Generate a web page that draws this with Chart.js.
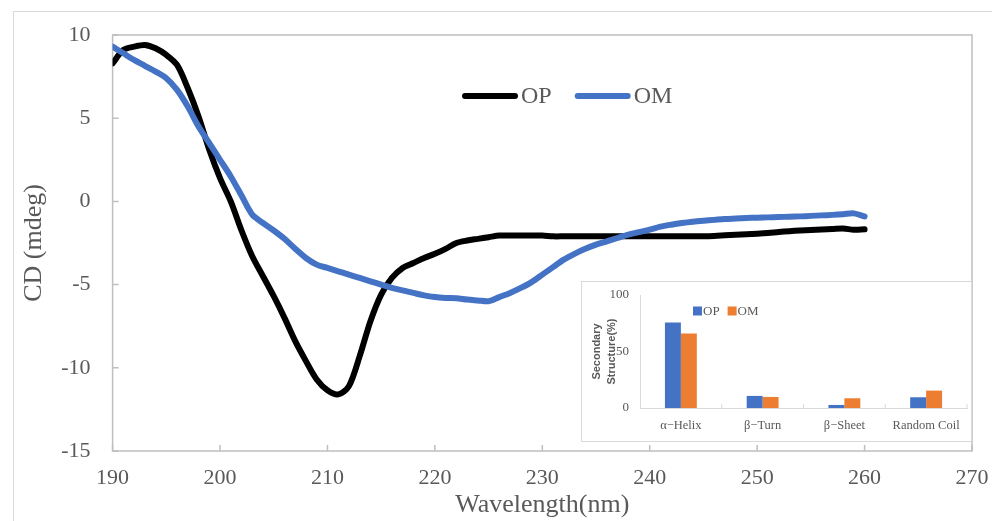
<!DOCTYPE html>
<html>
<head>
<meta charset="utf-8">
<script src="https://cdn.jsdelivr.net/npm/chart.js@4.4.1/dist/chart.umd.min.js"></script>
<style>
html, body { margin: 0; padding: 0; background: #fff; overflow: hidden; }
#wrap { position: relative; width: 992px; height: 521px; overflow: hidden; }
#outer { position: absolute; left: 13px; top: 11px; width: 1000px; height: 600px; border: 1px solid #d9d9d9; }
#main { position: absolute; left: 0; top: 0; }
#insetBox { position: absolute; left: 581px; top: 281px; width: 391px; height: 161px; box-sizing: border-box; border: 1px solid #d9d9d9; background: #fff; }
#inset { position: absolute; left: 0; top: 0; }
</style>
</head>
<body>
<div id="wrap">
  <div id="outer"></div>
  <canvas id="main" width="992" height="521"></canvas>
  <div id="insetBox"><canvas id="inset" width="389" height="159"></canvas></div>
</div>
<script>
// main CD spectra
var seriesNames = ['OP', 'OM'];
var wavelengths = [190, 191, 192, 193, 194, 195, 196, 197, 198, 199,
    200, 201, 202, 203, 204, 205, 206, 207, 208, 209,
    210, 211, 212, 213, 214, 215, 216, 217, 218, 219,
    220, 221, 222, 223, 224, 225, 226, 227, 228, 229,
    230, 231, 232, 233, 234, 235, 236, 237, 238, 239,
    240, 241, 242, 243, 244, 245, 246, 247, 248, 249,
    250, 251, 252, 253, 254, 255, 256, 257, 258, 259, 260];
var opCD = [8.3, 9.1, 9.3, 9.4, 9.2, 8.8, 8.2, 6.8, 5.1, 3.1,
    1.4, 0.0, -1.75, -3.3, -4.5, -5.7, -7.0, -8.4, -9.6, -10.7,
    -11.35, -11.6, -11.1, -9.3, -7.2, -5.6, -4.6, -4.0, -3.7, -3.4,
    -3.15, -2.85, -2.5, -2.35, -2.25, -2.15, -2.05, -2.05, -2.05, -2.05,
    -2.05, -2.1, -2.1, -2.1, -2.1, -2.1, -2.1, -2.1, -2.1, -2.1,
    -2.1, -2.1, -2.1, -2.1, -2.1, -2.1, -2.08, -2.04, -2.0, -1.97,
    -1.94, -1.9, -1.84, -1.79, -1.75, -1.72, -1.69, -1.66, -1.63, -1.7, -1.68];
var omCD = [9.3, 8.9, 8.5, 8.15, 7.8, 7.4, 6.7, 5.7, 4.5, 3.5,
    2.5, 1.5, 0.35, -0.8, -1.3, -1.75, -2.25, -2.85, -3.4, -3.8,
    -4.0, -4.2, -4.4, -4.6, -4.8, -5.0, -5.2, -5.35, -5.5, -5.65,
    -5.75, -5.8, -5.82, -5.9, -5.95, -6.0, -5.75, -5.5, -5.2, -4.85,
    -4.4, -3.95, -3.5, -3.15, -2.85, -2.6, -2.4, -2.2, -2.0, -1.85,
    -1.7, -1.52, -1.4, -1.3, -1.22, -1.16, -1.11, -1.06, -1.03, -1.0,
    -0.98, -0.96, -0.94, -0.92, -0.9, -0.87, -0.84, -0.81, -0.77, -0.72, -0.9];
var xTicks = [190, 200, 210, 220, 230, 240, 250, 260, 270];
var yTicks = [-15, -10, -5, 0, 5, 10];

// inset secondary structure
var structures = ['α−Helix', 'β−Turn', 'β−Sheet', 'Random Coil'];
var opStructure = [75.7, 10.7, 2.7, 9.5];
var omStructure = [66.0, 9.8, 8.6, 15.4];
var insetTicks = [0, 50, 100];

var textGray = '#595959';
var serif = 'Liberation Serif';

function noScalePadding(s) {
    s.paddingLeft = 0;
    s.paddingRight = 0;
    s.paddingTop = 0;
    s.paddingBottom = 0;
}

// plot area border + small inner tick marks
var plotFrame = {
    id: 'plotFrame',
    beforeDatasetsDraw: function(chart) {
        var ctx = chart.ctx, a = chart.chartArea;
        var x = chart.scales.x, y = chart.scales.y;
        ctx.save();
        ctx.strokeStyle = '#bfbfbf';
        ctx.lineWidth = 1.5;
        ctx.strokeRect(a.left, a.top, a.right - a.left, a.bottom - a.top);
        ctx.beginPath();
        xTicks.forEach(function(v) {
            var px = x.getPixelForValue(v);
            ctx.moveTo(px, a.bottom);
            ctx.lineTo(px, a.bottom - 6);
        });
        yTicks.forEach(function(v) {
            var py = y.getPixelForValue(v);
            ctx.moveTo(a.left, py);
            ctx.lineTo(a.left + 6, py);
        });
        ctx.stroke();
        ctx.restore();
    }
};

// legend drawn inside the plot, line + label
var lineLegend = {
    id: 'lineLegend',
    afterDraw: function(chart) {
        var ctx = chart.ctx;
        var x = 462, y = 96;
        ctx.save();
        ctx.font = '24px "' + serif + '"';
        ctx.textBaseline = 'middle';
        chart.data.datasets.forEach(function(ds) {
            ctx.strokeStyle = ds.borderColor;
            ctx.lineWidth = 6;
            ctx.lineCap = 'round';
            ctx.beginPath();
            ctx.moveTo(x + 3, y);
            ctx.lineTo(x + 53, y);
            ctx.stroke();
            ctx.fillStyle = textGray;
            ctx.fillText(ds.label, x + 59, y + 1);
            x += 59 + ctx.measureText(ds.label).width + 23;
        });
        ctx.restore();
    }
};

var mainChart = new Chart(document.getElementById('main'), {
type: 'line',
data: {
    datasets: [{
        label: seriesNames[0],
        data: wavelengths.map(function(w, i) { return {x: w, y: opCD[i]}; }),
        borderColor: '#000000',
        borderWidth: 6,
        pointRadius: 0,
        tension: 0.3,
        borderCapStyle: 'round',
        borderJoinStyle: 'round',
        order: 1
    }, {
        label: seriesNames[1],
        data: wavelengths.map(function(w, i) { return {x: w, y: omCD[i]}; }),
        borderColor: '#4472C4',
        borderWidth: 6,
        pointRadius: 0,
        tension: 0.3,
        borderCapStyle: 'round',
        borderJoinStyle: 'round',
        order: 0
    }]
},
options: {
    responsive: false,
    animation: false,
    layout: {
        padding: {left: 0, top: 35, right: 20, bottom: 0}
    },
    plugins: {
        legend: {display: false},
        tooltip: {enabled: false}
    },
    scales: {
        x: {
            type: 'linear',
            min: 190,
            max: 270,
            afterBuildTicks: function(s) { s.ticks = xTicks.map(function(v) { return {value: v}; }); },
            afterFit: function(s) { s.height = 70; noScalePadding(s); },
            grid: {display: false, drawTicks: false},
            border: {display: false},
            ticks: {font: {family: serif, size: 22}, color: textGray, padding: 14, maxRotation: 0},
            title: {
                display: true,
                text: 'Wavelength(nm)',
                font: {family: serif, size: 26},
                color: textGray,
                padding: {top: 0, bottom: 0}
            }
        },
        y: {
            min: -15,
            max: 10,
            afterBuildTicks: function(s) { s.ticks = yTicks.map(function(v) { return {value: v}; }); },
            afterFit: function(s) { s.width = 112.6; noScalePadding(s); },
            grid: {display: false, drawTicks: false},
            border: {display: false},
            ticks: {font: {family: serif, size: 22}, color: textGray, padding: 22},
            title: {
                display: true,
                text: 'CD (mdeg)',
                font: {family: serif, size: 26},
                color: textGray,
                padding: {top: 19, bottom: 0}
            }
        }
    }
},
plugins: [plotFrame, lineLegend]
});

// inset legend: square + label
var insetLegend = {
    id: 'insetLegend',
    afterDraw: function(chart) {
        var ctx = chart.ctx;
        var x = 111, y = 29;
        ctx.save();
        ctx.font = '13px "' + serif + '"';
        ctx.textBaseline = 'middle';
        chart.data.datasets.forEach(function(ds) {
            ctx.fillStyle = ds.backgroundColor;
            ctx.fillRect(x, y - 4.5, 9, 9);
            ctx.fillStyle = textGray;
            ctx.fillText(ds.label, x + 10, y + 1);
            x += 10 + ctx.measureText(ds.label).width + 8;
        });
        ctx.restore();
    }
};

// little tick marks between categories
var insetMarks = {
    id: 'insetMarks',
    afterDatasetsDraw: function(chart) {
        var ctx = chart.ctx, a = chart.chartArea;
        var n = structures.length, w = (a.right - a.left) / n;
        ctx.save();
        ctx.strokeStyle = '#d9d9d9';
        ctx.lineWidth = 1;
        ctx.beginPath();
        for (var i = 1; i <= n; i++) {
            ctx.moveTo(a.left + i * w, a.bottom);
            ctx.lineTo(a.left + i * w, a.bottom - 4);
        }
        ctx.stroke();
        ctx.restore();
    }
};

var insetChart = new Chart(document.getElementById('inset'), {
type: 'bar',
data: {
    labels: structures,
    datasets: [{
        label: seriesNames[0],
        data: opStructure,
        backgroundColor: '#4472C4',
        categoryPercentage: 0.39,
        barPercentage: 1.0
    }, {
        label: seriesNames[1],
        data: omStructure,
        backgroundColor: '#ED7D31',
        categoryPercentage: 0.39,
        barPercentage: 1.0
    }]
},
options: {
    responsive: false,
    animation: false,
    layout: {
        padding: {left: 0, top: 13, right: 4, bottom: 0}
    },
    plugins: {
        legend: {display: false},
        tooltip: {enabled: false}
    },
    scales: {
        x: {
            afterFit: function(s) { s.height = 33; noScalePadding(s); },
            grid: {display: false, drawTicks: false},
            border: {color: '#d9d9d9', width: 1},
            ticks: {font: {family: serif, size: 12.5}, color: textGray, padding: 10, maxRotation: 0}
        },
        y: {
            min: 0,
            max: 100,
            afterBuildTicks: function(s) { s.ticks = insetTicks.map(function(v) { return {value: v}; }); },
            afterFit: function(s) { s.width = 58; noScalePadding(s); },
            grid: {display: false, drawTicks: false},
            border: {color: '#d9d9d9', width: 1},
            ticks: {font: {family: serif, size: 13}, color: textGray, padding: 11},
            title: {
                display: true,
                text: ['Secondary', 'Structure(%)'],
                font: {family: 'Liberation Sans', size: 11, weight: 'bold', lineHeight: 1.36},
                color: textGray,
                padding: {top: 7.5, bottom: 0}
            }
        }
    }
},
plugins: [insetLegend, insetMarks]
});
</script>
</body>
</html>
